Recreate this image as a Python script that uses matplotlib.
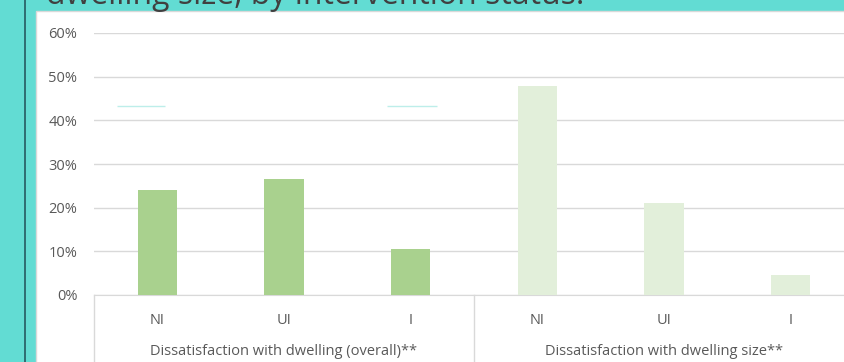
import numpy as np
import matplotlib
matplotlib.use("Agg")
from matplotlib import pyplot as plt
from matplotlib import transforms
from matplotlib.patches import Rectangle

# data
categories = ["NI", "UI", "I", "NI", "UI", "I"]
groups = ["Dissatisfaction with dwelling (overall)**", "Dissatisfaction with dwelling size**"]
values = [0.240, 0.265, 0.105, 0.478, 0.210, 0.045]
bar_colors = ["#a9d18e"] * 3 + ["#e2efda"] * 3
yticks = [0, 0.1, 0.2, 0.3, 0.4, 0.5, 0.6]
ytick_labels = ["0%", "10%", "20%", "30%", "40%", "50%", "60%"]
# faint leftover dashes seen at about 43%
faint_y = [0.432, 0.432]
faint_x0 = [-0.32, 1.81]
faint_x1 = [0.06, 2.21]
title = "dwelling size, by intervention status."

text_color = "#595959"
grid_color = "#d9d9d9"
teal = "#62dcd3"
fs = 10.5

fig = plt.figure(figsize=(8.45, 3.62), dpi=100)
fig.patch.set_facecolor(teal)

W, H = 845.0, 362.0
# dark rule on the left and the white page panel
fig.add_artist(Rectangle((24 / W, 0), 2 / W, 1, transform=fig.transFigure,
                         color="#2f6f73", lw=0, zorder=-2))
fig.add_artist(Rectangle((36 / W, -0.05), 1, 1.05 - 11 / H, transform=fig.transFigure,
                         facecolor="white", edgecolor=grid_color, lw=1, zorder=-2))
fig.text(46 / W, 1 - 4 / H, title, fontsize=23, color="#404040",
         family="Open Sans", va="baseline", ha="left")

ax = fig.add_axes([94 / W, 1 - 295 / H, 760 / W, 262 / H])
ax.set_facecolor("none")

x = np.arange(len(categories))
ax.bar(x, values, width=0.31, color=bar_colors, zorder=3)
ax.hlines(faint_y, faint_x0, faint_x1, color="#bdeeea", lw=1, zorder=3)

ax.set_xlim(-0.5, len(categories) - 0.5)
ax.set_ylim(0, 0.6)
ax.set_yticks(yticks)
ax.set_yticklabels(ytick_labels)
ax.yaxis.grid(True, color=grid_color, lw=1, zorder=0)
ax.set_axisbelow(True)
for s in ["top", "right", "left"]:
    ax.spines[s].set_visible(False)
ax.spines["bottom"].set_color(grid_color)

ax.set_xticks(x)
ax.set_xticklabels(categories)
ax.tick_params(axis="both", length=0, colors=text_color, labelsize=fs)
ax.tick_params(axis="x", pad=13)
ax.tick_params(axis="y", pad=12)
for lab in ax.get_xticklabels() + ax.get_yticklabels():
    lab.set_family("Open Sans")

# second level of the category axis
trans = transforms.blended_transform_factory(ax.transData, ax.transAxes)
for i, name in enumerate(groups):
    ax.text(i * 3 + 1, -0.215, name, transform=trans, ha="center", va="center",
            fontsize=fs, color=text_color, family="Open Sans")
for xb in [-0.5, 2.5, 5.5]:
    ax.plot([xb, xb], [0, -0.3], transform=trans, color=grid_color, lw=1,
            clip_on=False)

fig.savefig("out.png", dpi=100, facecolor=fig.get_facecolor())
